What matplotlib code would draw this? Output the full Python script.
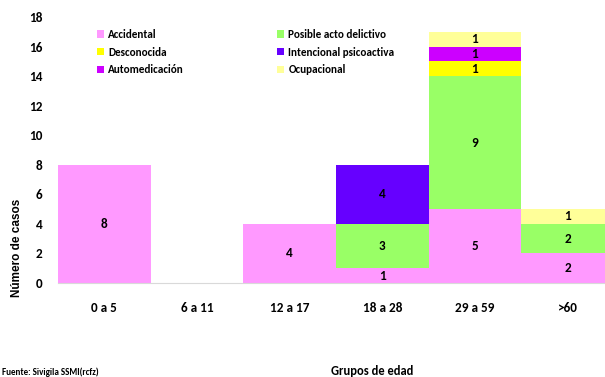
import matplotlib
matplotlib.use("Agg")
import matplotlib.pyplot as plt
import numpy as np

categories = ["0 a 5", "6 a 11", "12 a 17", "18 a 28", "29 a 59", ">60"]
series_names = ["Accidental", "Posible acto delictivo", "Intencional psicoactiva",
                "Desconocida", "Automedicación", "Ocupacional"]
accidental = [8, 0, 4, 1, 5, 2]
posible = [0, 0, 0, 3, 9, 2]
intencional = [0, 0, 0, 4, 0, 0]
desconocida = [0, 0, 0, 0, 1, 0]
automedicacion = [0, 0, 0, 0, 1, 0]
ocupacional = [0, 0, 0, 0, 1, 1]
yticks = [0, 2, 4, 6, 8, 10, 12, 14, 16, 18]

colors = ["#FF99FF", "#99FF66", "#6600FF", "#FFFF00", "#CC00FF", "#FFFF99"]

plt.rcParams['font.family'] = ['Carlito', 'DejaVu Sans']

fig = plt.figure(figsize=(6.05, 3.77), dpi=100)
ax = fig.add_axes([58/605, 1-283/377, (614-58)/605, (283-17)/377])

data = [accidental, posible, intencional, desconocida, automedicacion, ocupacional]
x = np.arange(len(categories))
bottom = np.zeros(len(categories))
handles = {}
for name, vals, c in zip(series_names, data, colors):
    vals = np.array(vals, dtype=float)
    b = ax.bar(x, vals, bottom=bottom, width=1.0, color=c, edgecolor='none')
    handles[name] = b
    for xi, v, bt in zip(x, vals, bottom):
        if v > 0:
            ax.text(xi, bt + v/2, f"{int(v)}", ha='center', va='center',
                    fontsize=9.5, fontweight='bold', color='black')
    bottom += vals

ax.set_xlim(-0.5, len(categories) - 0.5)
ax.set_ylim(0, 18)
ax.set_yticks(yticks)
ax.set_xticks(x)
ax.set_xticklabels(categories, fontsize=9.5, fontweight='bold')
ax.set_yticklabels([str(t) for t in yticks], fontsize=9.5, fontweight='bold')
ax.tick_params(axis='both', length=0)
ax.tick_params(axis='x', pad=14)
ax.tick_params(axis='y', pad=11)
for s in ['top', 'right', 'left']:
    ax.spines[s].set_visible(False)
ax.spines['bottom'].set_color('#D9D9D9')
ax.spines['bottom'].set_linewidth(0.8)

fig.text(17/605, 1-248/377, "Número de casos", rotation=90, ha='center', va='center',
         fontsize=8.5, fontweight='bold', family=['Liberation Sans', 'DejaVu Sans'])

order = ["Accidental", "Desconocida", "Automedicación",
         "Posible acto delictivo", "Intencional psicoactiva", "Ocupacional"]
fig.legend([handles[n] for n in order], order, ncol=2,
           loc='upper left', bbox_to_anchor=(87/605, 1-19/377),
           frameon=False, handlelength=0.65, handleheight=0.65,
           handletextpad=0.35, columnspacing=8.4, labelspacing=0.6,
           prop={'family': ['Carlito', 'DejaVu Sans'], 'weight': 'bold', 'size': 8})

fig.text(372/605, 1-371/377, "Grupos de edad", ha='center', va='center',
         fontsize=9, fontweight='bold')
fig.text(2/605, 1-372/377, "Fuente: Sivigila SSMI(rcfz)", ha='left', va='center',
         fontsize=6.5, fontweight='bold')

fig.savefig("out.png", dpi=100)
